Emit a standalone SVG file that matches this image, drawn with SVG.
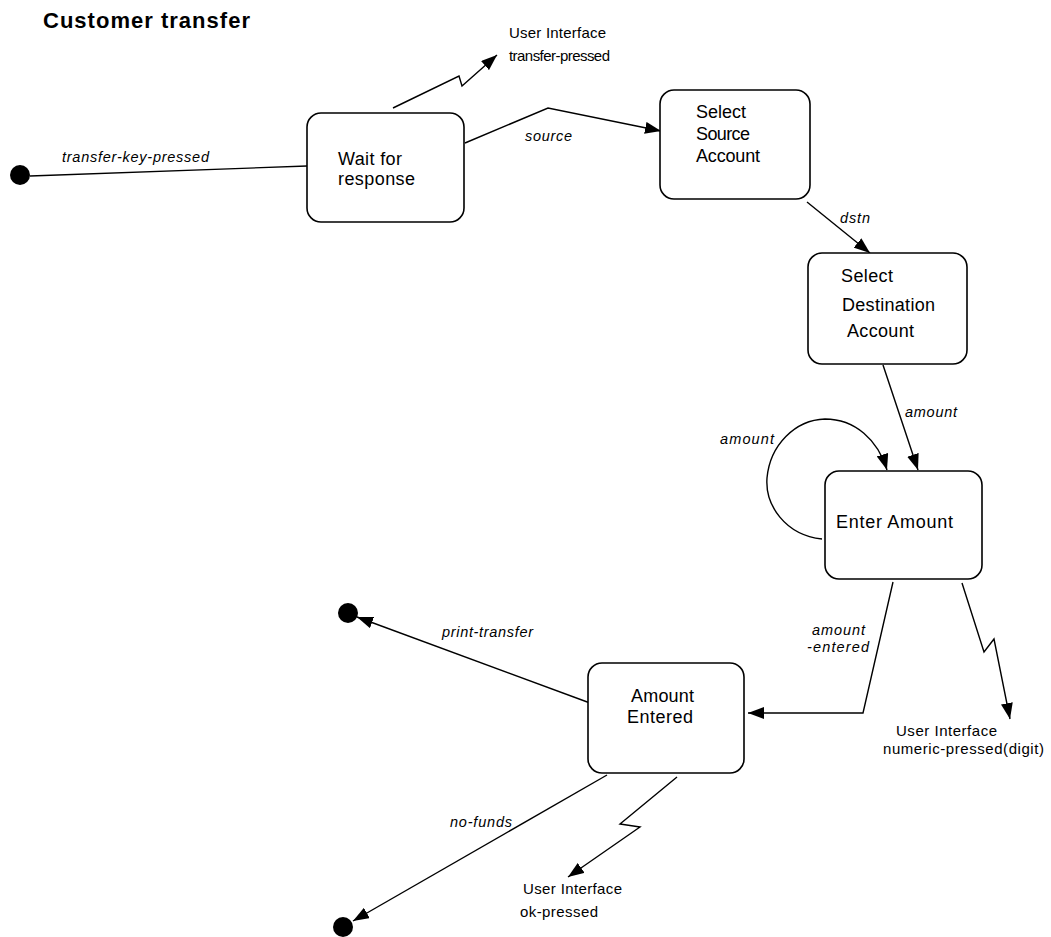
<svg xmlns="http://www.w3.org/2000/svg" width="1051" height="937" viewBox="0 0 1051 937">
<style>
.box{fill:#fff;stroke:#000;stroke-width:1.6}
.t{font-family:"Liberation Sans",Arial,Helvetica,sans-serif;font-size:18px;fill:#000}
.lab{font-family:"Liberation Sans",Arial,Helvetica,sans-serif;font-size:14.5px;font-style:italic;fill:#000}
.ui{font-family:"Liberation Sans",Arial,Helvetica,sans-serif;font-size:15px;fill:#000}
.title{font-family:"Liberation Sans",Arial,Helvetica,sans-serif;font-size:22px;font-weight:bold;fill:#000}
.c{fill:none;stroke:#000;stroke-width:1.4}
.dot{fill:#000}
</style>
<defs>
<marker id="arr" viewBox="0 0 16 12" refX="16" refY="6" markerWidth="16" markerHeight="12" orient="auto" markerUnits="userSpaceOnUse">
<path d="M0,0 L16,6 L0,12 z" fill="#000"/>
</marker>
</defs>
<text class="title" x="43" y="28" textLength="207">Customer transfer</text>

<g id="connectors">
<line class="c" x1="30" y1="176" x2="307" y2="166"/>
<text class="lab" x="62" y="162" textLength="147">transfer-key-pressed</text>
<polyline class="c" points="393,108 459,76 462,86 497,55" marker-end="url(#arr)"/>
<polyline class="c" points="465,143 548,108 661,131" marker-end="url(#arr)"/>
<text class="lab" x="525" y="141" textLength="47">source</text>
<line class="c" x1="807" y1="202" x2="870" y2="253" marker-end="url(#arr)"/>
<text class="lab" x="840" y="223" textLength="30">dstn</text>
<line class="c" x1="883" y1="365" x2="918" y2="470" marker-end="url(#arr)"/>
<text class="lab" x="905" y="417" textLength="52">amount</text>
<path class="c" d="M822,539 C785,535 765,505 767,478 C770,445 795,420 825,419 C855,419 878,440 887,470" marker-end="url(#arr)"/>
<text class="lab" x="720" y="444" textLength="54">amount</text>
<polyline class="c" points="893,582 863,713 748,713" marker-end="url(#arr)"/>
<text class="lab" x="812" y="635" textLength="53">amount</text>
<text class="lab" x="807" y="652" textLength="62">-entered</text>
<polyline class="c" points="962,583 984,652 994,639 1010,719" marker-end="url(#arr)"/>
<line class="c" x1="590" y1="703" x2="357" y2="617" marker-end="url(#arr)"/>
<text class="lab" x="442" y="637" textLength="91">print-transfer</text>
<line class="c" x1="607" y1="775" x2="353" y2="921" marker-end="url(#arr)"/>
<text class="lab" x="450" y="827" textLength="62">no-funds</text>
<polyline class="c" points="677,777 620,824 640,827 568,877" marker-end="url(#arr)"/>
</g>

<g id="initial"><circle class="dot" cx="20" cy="175" r="10"/></g>
<g id="final-print"><circle class="dot" cx="348" cy="613" r="10"/></g>
<g id="final-nofunds"><circle class="dot" cx="343" cy="927" r="10"/></g>

<g id="wait-for-response">
<rect class="box" x="307" y="113" width="157" height="109" rx="14"/>
<text class="t" x="338" y="165" textLength="64">Wait for</text>
<text class="t" x="338" y="185" textLength="77">response</text>
</g>

<g id="ui-transfer-pressed">
<text class="ui" x="509" y="38" textLength="97">User Interface</text>
<text class="ui" x="509" y="61" textLength="101">transfer-pressed</text>
</g>

<g id="select-source">
<rect class="box" x="660" y="90" width="150" height="109" rx="14"/>
<text class="t" x="696" y="118" textLength="50">Select</text>
<text class="t" x="696" y="140" textLength="54">Source</text>
<text class="t" x="696" y="162" textLength="64">Account</text>
</g>

<g id="select-destination">
<rect class="box" x="808" y="253" width="159" height="111" rx="14"/>
<text class="t" x="841" y="282" textLength="52">Select</text>
<text class="t" x="842" y="311" textLength="93">Destination</text>
<text class="t" x="847" y="337" textLength="67">Account</text>
</g>

<g id="enter-amount">
<rect class="box" x="825" y="471" width="157" height="108" rx="14"/>
<text class="t" x="836" y="528" textLength="117">Enter Amount</text>
</g>

<g id="ui-numeric">
<text class="ui" x="896" y="736" textLength="101">User Interface</text>
<text class="ui" x="883" y="754" textLength="161">numeric-pressed(digit)</text>
</g>

<g id="amount-entered">
<rect class="box" x="588" y="663" width="156" height="110" rx="14"/>
<text class="t" x="631" y="702" textLength="63">Amount</text>
<text class="t" x="627" y="723" textLength="66">Entered</text>
</g>

<g id="ui-ok">
<text class="ui" x="523" y="894" textLength="99">User Interface</text>
<text class="ui" x="520" y="917" textLength="78">ok-pressed</text>
</g>
</svg>
